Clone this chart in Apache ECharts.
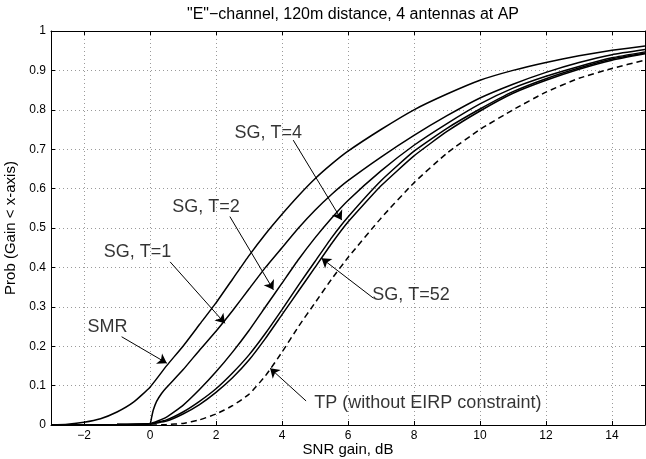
<!DOCTYPE html>
<html>
<head>
<meta charset="utf-8">
<script src="https://cdn.jsdelivr.net/npm/echarts@6.0.0/dist/echarts.min.js"></script>
<style>
html,body{margin:0;padding:0;background:#fff;}
#chart{width:646px;height:459px;}
</style>
</head>
<body>
<div id="chart"></div>
<script>
// ---- data ----
var titleText = '"E"\u2212channel, 120m distance, 4 antennas at AP';
var xName = 'SNR gain, dB';
var yName = 'Prob (Gain < x-axis)';
var xTicks = [-2, 0, 2, 4, 6, 8, 10, 12, 14];

var xSMR = [-3, -2.5, -2, -1.5, -1, -0.5, 0, 0.5, 1, 1.5, 2, 2.5, 3, 3.5, 4, 4.5, 5, 5.5, 6, 7, 8, 9, 10, 11, 12, 13, 14, 15];
var ySMR = [0, 0.002, 0.007, 0.016, 0.033, 0.058, 0.096, 0.15, 0.2, 0.255, 0.31, 0.37, 0.43, 0.485, 0.535, 0.582, 0.625, 0.662, 0.695, 0.75, 0.8, 0.84, 0.875, 0.9, 0.92, 0.937, 0.951, 0.962];

var xSG1 = [-3, -2, -1, 0, 0.05, 0.1, 0.2, 0.35, 0.5, 1, 1.5, 2, 2.5, 3, 3.5, 4, 4.5, 5, 5.5, 6, 7, 8, 9, 10, 11, 12, 13, 14, 15];
var ySG1 = [0, 0, 0.001, 0.004, 0.02, 0.038, 0.06, 0.08, 0.095, 0.14, 0.19, 0.238, 0.29, 0.345, 0.4, 0.45, 0.5, 0.545, 0.585, 0.62, 0.68, 0.735, 0.785, 0.83, 0.865, 0.895, 0.92, 0.94, 0.953];

var xSG2 = [-3, -2, -1, 0, 0.5, 1, 1.5, 2, 2.5, 3, 3.5, 4, 4.5, 5, 5.5, 6, 7, 8, 9, 10, 11, 12, 13, 14, 15];
var ySG2 = [0, 0, 0.001, 0.003, 0.02, 0.05, 0.09, 0.135, 0.185, 0.24, 0.3, 0.36, 0.42, 0.475, 0.525, 0.57, 0.645, 0.71, 0.765, 0.815, 0.855, 0.885, 0.91, 0.932, 0.947];

var xSG4 = [-3, -2, -1, 0, 0.5, 1, 1.5, 2, 2.5, 3, 3.5, 4, 4.5, 5, 5.5, 6, 7, 8, 9, 10, 11, 12, 13, 14, 15];
var ySG4 = [0, 0, 0.001, 0.003, 0.013, 0.033, 0.06, 0.092, 0.132, 0.178, 0.233, 0.293, 0.355, 0.415, 0.475, 0.528, 0.62, 0.695, 0.753, 0.802, 0.846, 0.879, 0.906, 0.929, 0.944];

var xSG52 = [-3, -2, -1, 0, 0.5, 1, 1.5, 2, 2.5, 3, 3.5, 4, 4.5, 5, 5.5, 6, 7, 8, 9, 10, 11, 12, 13, 14, 15];
var ySG52 = [0, 0, 0.001, 0.003, 0.01, 0.028, 0.052, 0.083, 0.12, 0.165, 0.22, 0.28, 0.34, 0.4, 0.46, 0.515, 0.607, 0.683, 0.745, 0.797, 0.842, 0.875, 0.903, 0.926, 0.942];

var xTP = [-3, -1, 0, 0.5, 1, 1.5, 2, 2.5, 3, 3.5, 4, 4.5, 5, 5.5, 6, 7, 8, 9, 10, 11, 12, 13, 14, 15];
var yTP = [0, 0, 0, 0.001, 0.004, 0.013, 0.028, 0.049, 0.078, 0.125, 0.185, 0.25, 0.31, 0.37, 0.425, 0.525, 0.615, 0.69, 0.75, 0.8, 0.845, 0.88, 0.905, 0.926];

// annotation labels: text, text anchor (data), arrow start (data), arrow tip (data)
var annTexts = ['SMR', 'SG, T=1', 'SG, T=2', 'SG, T=4', 'SG, T=52', 'TP (without EIRP constraint)'];
var annTextPos = [[-1.29, 0.249], [-0.38, 0.439], [1.70, 0.553], [3.58, 0.741], [7.91, 0.330], [8.42, 0.056]];
var annFrom = [[-0.86, 0.224], [0.61, 0.414], [2.42, 0.529], [4.34, 0.723], [6.77, 0.322], [4.73, 0.061]];
var annTo = [[0.51, 0.157], [2.27, 0.258], [3.74, 0.343], [5.81, 0.520], [5.20, 0.423], [3.64, 0.144]];

// ---- chart ----
var FONT = '"Liberation Sans", Arial, Helvetica, sans-serif';
function pairs(xs, ys) { return xs.map(function (x, i) { return [x, ys[i]]; }); }

var chart = echarts.init(document.getElementById('chart'), null, {renderer: 'canvas'});

var gridLine = {show: true, lineStyle: {color: '#9a9a9a', width: 1, type: [1, 3]}};
var axLine = {show: true, onZero: false, lineStyle: {color: '#000', width: 1}};

function lineSeries(name, data, dashed, w) {
  return {
    name: name, type: 'line', data: data, showSymbol: false, symbol: 'none',
    smooth: 0.15, silent: true, animation: false,
    lineStyle: {color: '#000', width: w || 1.5, type: dashed ? [6, 4] : 'solid'},
    z: 5
  };
}

var option = {
  animation: false,
  backgroundColor: '#fff',
  title: {
    text: titleText, left: 348, top: 2, textAlign: 'center',
    textStyle: {fontFamily: FONT, fontSize: 16, fontWeight: 'normal', color: '#000'}
  },
  grid: {left: 51, right: 1, top: 31, bottom: 34, outerBoundsMode: 'none', containLabel: false},
  xAxis: [{
    type: 'value', min: -3, max: 15, position: 'bottom',
    name: xName, nameLocation: 'middle', nameGap: 17, nameMoveOverlap: false,
    nameTextStyle: {fontFamily: FONT, fontSize: 15, color: '#000'},
    axisLine: axLine,
    axisTick: {show: true, inside: true, length: 4, customValues: xTicks, lineStyle: {color: '#000'}},
    axisLabel: {show: true, customValues: xTicks, fontFamily: FONT, fontSize: 12, color: '#000', margin: 5,
      formatter: function (v) { return v < 0 ? '\u2212' + Math.abs(v) : String(v); }},
    splitLine: gridLine
  }, {
    type: 'value', min: -3, max: 15, position: 'top',
    axisLine: axLine,
    axisTick: {show: true, inside: true, length: 4, customValues: xTicks, lineStyle: {color: '#000'}},
    axisLabel: {show: false}, splitLine: {show: false}
  }],
  yAxis: [{
    type: 'value', min: 0, max: 1, interval: 0.1, position: 'left',
    name: yName, nameLocation: 'middle', nameGap: 30, nameRotate: 90,
    nameTextStyle: {fontFamily: FONT, fontSize: 15, color: '#000'},
    axisLine: axLine,
    axisTick: {show: true, inside: true, length: 4, lineStyle: {color: '#000'}},
    axisLabel: {fontFamily: FONT, fontSize: 12, color: '#000', margin: 5},
    splitLine: gridLine
  }, {
    type: 'value', min: 0, max: 1, interval: 0.1, position: 'right',
    axisLine: axLine,
    axisTick: {show: true, inside: true, length: 4, lineStyle: {color: '#000'}},
    axisLabel: {show: false}, splitLine: {show: false}
  }],
  series: [
    lineSeries('SMR', pairs(xSMR, ySMR)),
    lineSeries('SG, T=1', pairs(xSG1, ySG1)),
    lineSeries('SG, T=2', pairs(xSG2, ySG2)),
    lineSeries('SG, T=4', pairs(xSG4, ySG4)),
    lineSeries('SG, T=52', pairs(xSG52, ySG52)),
    lineSeries('TP', pairs(xTP, yTP), true),
    {
      type: 'scatter', silent: true, animation: false, symbolSize: 0, z: 10,
      data: annTexts.map(function (t, i) { return {value: annTextPos[i], name: t}; }),
      label: {show: true, position: 'inside', formatter: '{b}', fontFamily: FONT, fontSize: 18, color: '#000'},
      markLine: {
        silent: true, animation: false, symbol: ['none', 'arrow'], symbolSize: 9,
        lineStyle: {color: '#000', width: 1, type: 'solid'},
        itemStyle: {color: '#000'},
        label: {show: false},
        data: annFrom.map(function (f, i) { return [{coord: f}, {coord: annTo[i]}]; })
      }
    }
  ]
};
chart.setOption(option);
</script>
</body>
</html>
